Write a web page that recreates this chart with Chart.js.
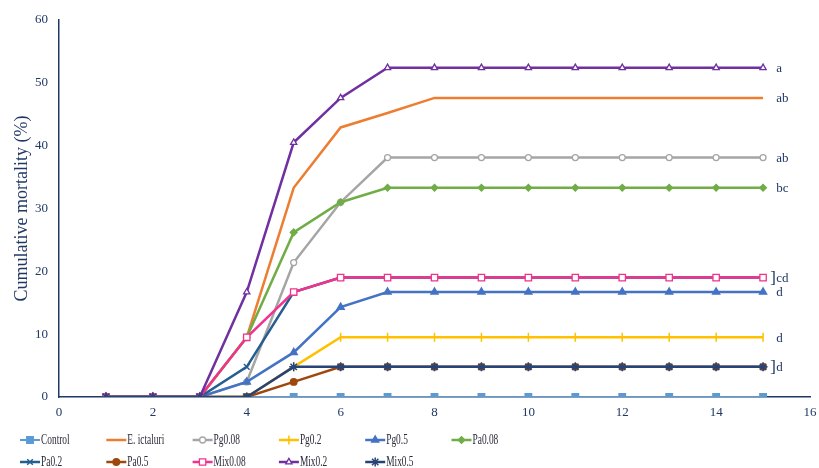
<!DOCTYPE html>
<html>
<head>
<meta charset="utf-8">
<script src="https://cdn.jsdelivr.net/npm/chart.js@4/dist/chart.umd.min.js"></script>
<style>
  html, body { margin: 0; padding: 0; background: #fff; }
  #wrap { width: 819px; height: 468px; }
</style>
</head>
<body>
<div id="wrap"><canvas id="c" width="819" height="468"></canvas></div>
<script>
// days post challenge
const days = [1, 2, 3, 4, 5, 6, 7, 8, 9, 10, 11, 12, 13, 14, 15];

const control    = [0, 0, 0, 0,    0,    0,    0,    0,    0,    0,    0,    0,    0,    0,    0];
const eIctaluri  = [0, 0, 0, 9.5,  33.3, 42.9, 45.2, 47.6, 47.6, 47.6, 47.6, 47.6, 47.6, 47.6, 47.6];
const pg008      = [0, 0, 0, 2.4,  21.4, 31.0, 38.1, 38.1, 38.1, 38.1, 38.1, 38.1, 38.1, 38.1, 38.1];
const pg02       = [0, 0, 0, 0,    4.8,  9.5,  9.5,  9.5,  9.5,  9.5,  9.5,  9.5,  9.5,  9.5,  9.5];
const pg05       = [0, 0, 0, 2.4,  7.1,  14.3, 16.7, 16.7, 16.7, 16.7, 16.7, 16.7, 16.7, 16.7, 16.7];
const pa008      = [0, 0, 0, 9.5,  26.2, 31.0, 33.3, 33.3, 33.3, 33.3, 33.3, 33.3, 33.3, 33.3, 33.3];
const pa02       = [0, 0, 0, 4.8,  16.7, 19.0, 19.0, 19.0, 19.0, 19.0, 19.0, 19.0, 19.0, 19.0, 19.0];
const pa05       = [0, 0, 0, 0,    2.4,  4.8,  4.8,  4.8,  4.8,  4.8,  4.8,  4.8,  4.8,  4.8,  4.8];
const mix008     = [0, 0, 0, 9.5,  16.7, 19.0, 19.0, 19.0, 19.0, 19.0, 19.0, 19.0, 19.0, 19.0, 19.0];
const mix02      = [0, 0, 0, 16.7, 40.5, 47.6, 52.4, 52.4, 52.4, 52.4, 52.4, 52.4, 52.4, 52.4, 52.4];
const mix05      = [0, 0, 0, 0,    4.8,  4.8,  4.8,  4.8,  4.8,  4.8,  4.8,  4.8,  4.8,  4.8,  4.8];

const xTicks = [0, 2, 4, 6, 8, 10, 12, 14, 16];
const yTicks = [0, 10, 20, 30, 40, 50, 60];

// significance letters at day 15
const groupLetters = ['a', 'ab', 'ab', 'bc', 'cd', 'd', 'd', 'd'];
const groupAt      = [52.4, 47.6, 38.1, 33.3, 19.0, 16.7, 9.5, 4.8];
const bracketed    = [false, false, false, false, true, false, false, true];

const NAVY = '#1f3864';
const SERIF = '"Liberation Serif", "DejaVu Serif", serif';

// label, data, colour, point style, filled marker, radius
const series = [
  ['Control',     control,   '#5b9bd5', 'rect',     true,  4.5],
  ['E. ictaluri', eIctaluri, '#ed7d31', false,      true,  0],
  ['Pg0.08',      pg008,     '#a5a5a5', 'circle',   false, 3],
  ['Pg0.2',       pg02,      '#ffc000', 'line',     true,  4.5],
  ['Pg0.5',       pg05,      '#4472c4', 'triangle', true,  4],
  ['Pa0.08',      pa008,     '#70ad47', 'rectRot',  true,  3.2],
  ['Pa0.2',       pa02,      '#255e91', 'crossRot', true,  4],
  ['Pa0.5',       pa05,      '#9e480e', 'circle',   true,  3.2],
  ['Mix0.08',     mix008,    '#f0338f', 'rect',     false, 4.5],
  ['Mix0.2',      mix02,     '#7030a0', 'triangle', false, 3.6],
  ['Mix0.5',      mix05,     '#264478', 'star',     true,  4.5],
];

const datasets = series.map(([label, vals, col, style, filled, r], i) => ({
  label,
  data: days.map((d, k) => ({ x: d, y: vals[k] })),
  borderColor: col,
  borderWidth: i === 0 ? 2 : 2.5,
  pointStyle: style,
  pointRotation: style === 'line' ? 90 : 0,
  pointRadius: r,
  pointBorderWidth: filled ? 1.5 : 1.3,
  pointBackgroundColor: filled ? col : '#ffffff',
  pointBorderColor: col,
  tension: 0,
  order: series.length - i,
}));

const letters = {
  id: 'letters',
  afterDatasetsDraw(chart) {
    const { ctx, scales: { x, y } } = chart;
    ctx.save();
    ctx.fillStyle = NAVY;
    ctx.textBaseline = 'middle';
    ctx.textAlign = 'left';
    const tx = x.getPixelForValue(15.28);
    groupLetters.forEach((t, i) => {
      const py = y.getPixelForValue(groupAt[i]) + 1;
      ctx.font = '13px ' + SERIF;
      ctx.fillText(t, tx, py);
      if (bracketed[i]) {
        ctx.font = '17px ' + SERIF;
        ctx.fillText(']', tx - 6, py);
      }
    });
    ctx.restore();
  }
};

// Excel-style legend: fixed grid, narrow text
const legendGrid = {
  id: 'legendGrid',
  afterDraw(chart) {
    const { ctx } = chart;
    ctx.save();
    ctx.font = '14px ' + SERIF;
    ctx.textBaseline = 'middle';
    ctx.textAlign = 'left';
    chart.data.datasets.forEach((ds, i) => {
      const col = i % 6, row = Math.floor(i / 6);
      const lx = 20 + col * 86.3, ly = 440 + row * 22;
      ctx.strokeStyle = ds.borderColor;
      ctx.lineWidth = ds.borderWidth;
      ctx.beginPath();
      ctx.moveTo(lx, ly);
      ctx.lineTo(lx + 20, ly);
      ctx.stroke();
      if (ds.pointRadius > 0) {
        ctx.fillStyle = ds.pointBackgroundColor;
        ctx.strokeStyle = ds.pointBorderColor;
        ctx.lineWidth = ds.pointBorderWidth;
        Chart.helpers.drawPoint(ctx, {
          pointStyle: ds.pointStyle,
          rotation: ds.pointRotation,
          radius: ds.pointRadius,
          borderWidth: ds.pointBorderWidth
        }, lx + 10, ly);
      }
      ctx.fillStyle = '#2a2a3a';
      ctx.save();
      ctx.translate(lx + 21, ly);
      ctx.scale(0.67, 1);
      ctx.fillText(ds.label, 0, 0);
      ctx.restore();
    });
    ctx.restore();
  }
};

new Chart(document.getElementById('c'), {
  type: 'line',
  data: { datasets },
  options: {
    responsive: false,
    animation: false,
    events: [],
    layout: { padding: { top: 20, right: 9, bottom: 46, left: 0 } },
    plugins: { legend: { display: false }, tooltip: { enabled: false } },
    scales: {
      x: {
        type: 'linear', min: 0, max: 16,
        afterBuildTicks: s => { s.ticks = xTicks.map(v => ({ value: v })); },
        afterFit: s => { s.height = 25; s.paddingLeft = 0; s.paddingRight = 0; },
        ticks: { color: NAVY, font: { family: SERIF, size: 13 }, padding: 8 },
        grid: { display: false, drawTicks: false },
        border: { display: true, color: NAVY, width: 1.5 }
      },
      y: {
        min: 0, max: 60,
        afterBuildTicks: s => { s.ticks = yTicks.map(v => ({ value: v })); },
        afterFit: s => { s.width = 59; },
        ticks: { color: NAVY, font: { family: SERIF, size: 13 }, padding: 11 },
        grid: { display: false, drawTicks: false },
        border: { display: true, color: NAVY, width: 1.5 },
        title: { display: true, text: 'Cumulative mortality (%)', color: NAVY,
                 font: { family: SERIF, size: 18 }, padding: { top: 11, bottom: 0 } }
      }
    }
  },
  plugins: [letters, legendGrid]
});
</script>
</body>
</html>
